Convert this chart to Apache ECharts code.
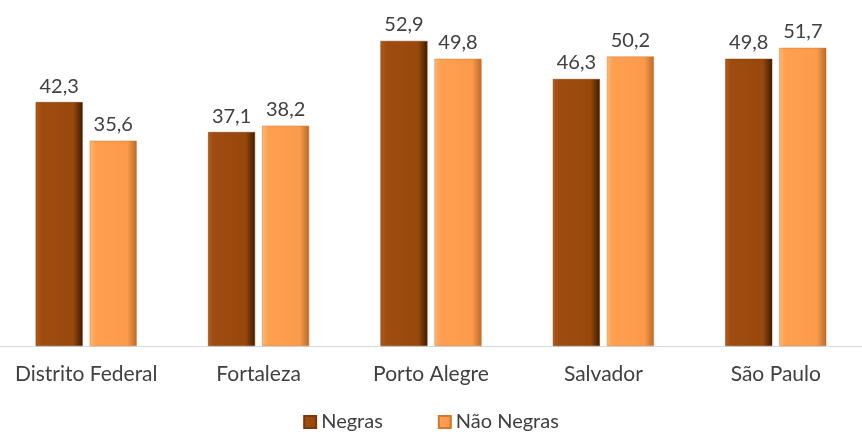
<!DOCTYPE html>
<html><head><meta charset="utf-8">
<script src="https://cdn.jsdelivr.net/npm/echarts@6/dist/echarts.min.js"></script>
<style>html,body{margin:0;padding:0;background:#fff}#c{width:862px;height:435px}</style>
</head><body><div id="c"></div>
<script>
const categories = ['Distrito Federal', 'Fortaleza', 'Porto Alegre', 'Salvador', 'São Paulo'];
const negras = [42.3, 37.1, 52.9, 46.3, 49.8];
const naoNegras = [35.6, 38.2, 49.8, 50.2, 51.7];
const seriesNames = ['Negras', 'Não Negras'];

const darkGrad = new echarts.graphic.LinearGradient(0, 0, 1, 0, [
  {offset: 0, color: '#b4591a'}, {offset: 0.12, color: '#a04c10'},
  {offset: 0.8, color: '#98480c'}, {offset: 1, color: '#3e1c02'}]);
const lightGrad = new echarts.graphic.LinearGradient(0, 0, 1, 0, [
  {offset: 0, color: '#ffb877'}, {offset: 0.12, color: '#ffa050'},
  {offset: 0.8, color: '#fb9a4a'}, {offset: 1, color: '#b86a2a'}]);

const font = 'Lato, "Open Sans", sans-serif';
const fmt = p => p.value.toFixed(1).replace('.', ',');
const chart = echarts.init(document.getElementById('c'));
chart.setOption({
  animation: false,
  grid: {left: 0, right: 0, top: 0, bottom: 89},
  legend: {
    bottom: -2, itemWidth: 12, itemHeight: 12, itemGap: 55, icon: 'rect',
    textStyle: {fontSize: 20, color: '#404040', fontFamily: font},
    data: seriesNames
  },
  xAxis: {
    type: 'category', data: categories,
    axisLine: {lineStyle: {color: '#d9d9d9', width: 1}},
    axisTick: {show: false},
    axisLabel: {interval: 0, hideOverlap: false, fontSize: 21, color: '#404040', fontFamily: font, margin: 18}
  },
  yAxis: {type: 'value', min: 0, max: 60, show: false, splitLine: {show: false}},
  series: [
    {name: seriesNames[0], type: 'bar', data: negras, barWidth: 47, barGap: '15%',
     itemStyle: {color: darkGrad, borderColor: '#7a3a08', borderWidth: 0.5},
     label: {show: true, position: 'top', distance: 6, fontSize: 20, color: '#404040', fontFamily: font, formatter: fmt}},
    {name: seriesNames[1], type: 'bar', data: naoNegras, barWidth: 47,
     itemStyle: {color: lightGrad, borderColor: '#d07a30', borderWidth: 0.5},
     label: {show: true, position: 'top', distance: 6, fontSize: 20, color: '#404040', fontFamily: font, formatter: fmt}}
  ]
});
</script></body></html>
